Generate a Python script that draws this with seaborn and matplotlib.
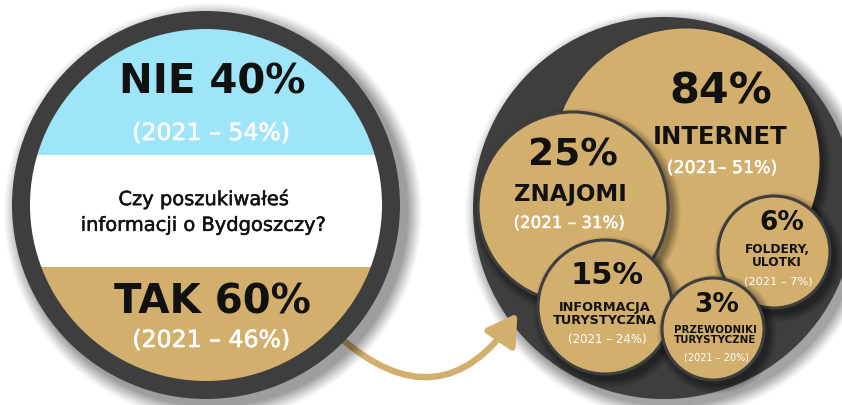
import matplotlib.pyplot as plt
import seaborn as sns
import matplotlib.patheffects as pe
from matplotlib.patches import Circle, Rectangle, FancyArrowPatch

# data
answers = ["NIE", "TAK"]
answer_pct = [40, 60]
answer_pct_2021 = [54, 46]
question = "Czy poszukiwałeś\ninformacji o Bydgoszczy?"

sources = ["INTERNET", "ZNAJOMI", "INFORMACJA\nTURYSTYCZNA", "FOLDERY,\nULOTKI", "PRZEWODNIKI\nTURYSTYCZNE"]
source_pct = [84, 25, 15, 6, 3]
source_pct_2021 = [51, 31, 24, 7, 20]

TAN = "#D3AF6E"
BLUE = "#9FE5F9"
DARK = "#3E3E3E"
INK = "#111111"

sns.set_theme(style="white")
plt.rcParams["font.family"] = ["DejaVu Sans"]

fig = plt.figure(figsize=(8.42, 4.05), dpi=100)
ax = fig.add_axes([0, 0, 1, 1])
ax.set_xlim(0, 842)
ax.set_ylim(405, 0)
ax.axis("off")


def thicken(size, col):
    # a little extra weight, like a medium font face (only for larger text)
    if size < 10:
        return []
    return [pe.withStroke(linewidth=size * 0.025, foreground=col)]


def shadow(x, y, r, z, dx=4, dy=5, spread=12, alpha=0.02):
    # soft drop shadow from stacked translucent discs
    for k in range(spread):
        ax.add_patch(Circle((x + dx, y + dy), r + spread - k, color="black",
                            alpha=alpha * (1 + k / spread), lw=0, zorder=z))


# right group: big dark circle with source bubbles
shadow(664, 208, 191, 1, dx=6, dy=6, spread=14)
ax.add_patch(Circle((664, 208), 191, color=DARK, lw=0, zorder=2))

# layout of bubbles: (x, y, r)
bubbles = [(686, 162, 132), (573, 207, 95), (605, 307, 67), (774, 252, 56), (713, 329, 51)]
# text layout: pct pos/size, name pos/size, year pos/size
text_layout = [
    ((721, 92, 31), (720, 137, 17.5), (722, 168, 12.5)),
    ((573, 155, 27), (570, 195, 16.5), (569, 223, 12)),
    ((607, 275, 22), (605, 314, 9.3), (607, 340, 8.5)),
    ((782, 223, 19), (777, 256, 8.7), (778, 282, 8.2)),
    ((717, 305, 19), (715, 335, 7.4), (716, 358, 7)),
]

for i, ((bx, by, br), name, p, p21, lay) in enumerate(
        zip(bubbles, sources, source_pct, source_pct_2021, text_layout)):
    z = 3 + i * 3
    shadow(bx, by, br, z, dx=4, dy=5, spread=9, alpha=0.035)
    ax.add_patch(Circle((bx, by), br, facecolor=TAN,
                        edgecolor=DARK if i > 0 else TAN, lw=2.2, zorder=z + 1))
    (px, py, ps), (nx, ny, ns), (yx, yy, ys) = lay
    ax.text(px, py, f"{p}%", ha="center", va="center", fontsize=ps,
            fontweight="bold", color=INK, zorder=30)
    ax.text(nx, ny, name, ha="center", va="center", fontsize=ns,
            fontweight="bold", color=INK, linespacing=1.05, zorder=30)
    sep = "" if i == 0 else " "
    ax.text(yx, yy, f"(2021{sep}– {p21}%)", ha="center", va="center",
            fontsize=ys, color="white", zorder=30, path_effects=thicken(ys, "white"))

# arrow from the left circle to the right one
arrow = FancyArrowPatch(posA=(336, 334), posB=(519, 311),
                        connectionstyle="arc3,rad=0.58",
                        arrowstyle="-|>,head_length=1.0,head_width=0.6",
                        mutation_scale=18, lw=4.6, color=TAN, zorder=20)
ax.add_patch(arrow)

# left circle
cx, cy, R, ring = 206, 205, 194, 18
shadow(cx, cy, R, 21, dx=7, dy=7, spread=15)
ax.add_patch(Circle((cx, cy), R, color=DARK, lw=0, zorder=22))
inner = Circle((cx, cy), R - ring, transform=ax.transData)
for top, bottom, col in [(0, 155, BLUE), (155, 267, "white"), (267, 405, TAN)]:
    band = Rectangle((cx - R, top), 2 * R, bottom - top, color=col, lw=0, zorder=23)
    ax.add_patch(band)
    band.set_clip_path(inner)

for a, p, p21, (y1, y2) in zip(answers, answer_pct, answer_pct_2021, [(82, 133), (302, 340)]):
    ax.text(cx + 6, y1, f"{a} {p}%", ha="center", va="center", fontsize=29,
            fontweight="bold", color=INK, zorder=30)
    ax.text(cx + 5, y2, f"(2021 – {p21}%)", ha="center", va="center",
            fontsize=17, color="white", zorder=30, path_effects=thicken(17, "white"))

ax.text(cx - 2, 212, question, ha="center", va="center", fontsize=14,
        color=INK, linespacing=1.45, zorder=30, path_effects=thicken(14, INK))

fig.savefig("out.png", dpi=100, facecolor="white")
